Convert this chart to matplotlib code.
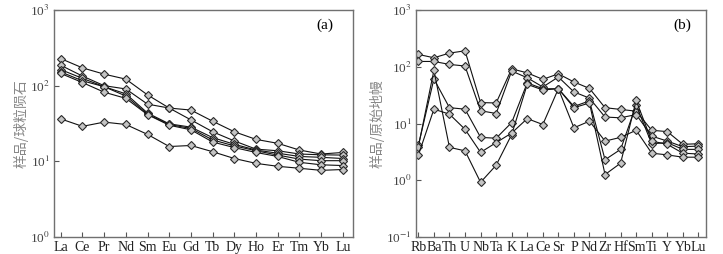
import matplotlib
matplotlib.use("Agg")
import matplotlib.pyplot as plt

plt.rcParams['font.family'] = ['Liberation Serif', 'Noto Sans CJK SC']
plt.rcParams['mathtext.fontset'] = 'stix'

# (a) 稀土元素球粒陨石标准化
ree = ['La', 'Ce', 'Pr', 'Nd', 'Sm', 'Eu', 'Gd', 'Tb', 'Dy', 'Ho', 'Er', 'Tm', 'Yb', 'Lu']
ree_1 = [228, 172, 142, 122, 75.5, 50.6, 47.6, 33.9, 24.6, 19.5, 17.3, 14.1, 12.5, 13.1]
ree_2 = [186, 134, 100, 90.5, 57, 50.6, 35.3, 24.6, 18.6, 14.5, 13.8, 12.5, 12.2, 12.1]
ree_3 = [163, 125, 97, 78, 43.5, 31.3, 28.3, 20.6, 16.8, 14.1, 12.8, 11.6, 11.3, 10.9]
ree_4 = [152, 116, 97, 73, 42, 30.7, 27.2, 19.2, 16.0, 13.8, 12.1, 10.7, 10.2, 10.2]
ree_5 = [145, 110, 82, 68, 41.4, 30.0, 26.1, 18.0, 15.2, 13.1, 11.6, 9.7, 9.0, 8.8]
ree_6 = [36.4, 29, 33, 30.7, 22.7, 15.7, 16.2, 13.4, 10.9, 9.4, 8.6, 8.1, 7.6, 7.8]

# (b) 微量元素原始地幔标准化
trace = ['Rb', 'Ba', 'Th', 'U', 'Nb', 'Ta', 'K', 'La', 'Ce', 'Sr', 'P', 'Nd',
         'Zr', 'Hf', 'Sm', 'Ti', 'Y', 'Yb', 'Lu']
tr_1 = [165, 144, 174, 191, 23.4, 23, 92, 78, 60, 75, 54, 41.5, 19, 17.7, 16.5, 7.6, 7.2, 4.3, 4.4]
tr_2 = [124, 124, 110, 103, 16.8, 15, 84, 64, 44, 66, 36, 28, 13, 12.6, 14.4, 6.0, 4.9, 3.9, 4.0]
tr_3 = [4.1, 61, 19, 17.9, 5.7, 5.5, 10.4, 52, 41, 41, 20, 25, 2.3, 3.5, 21, 4.4, 4.6, 3.5, 3.5]
tr_4 = [3.9, 86, 3.8, 3.3, 0.92, 1.84, 6.4, 49, 39, 41, 19, 23, 1.26, 2.0, 25.5, 4.9, 4.3, 3.0, 2.9]
tr_5 = [2.76, 17.9, 14.6, 7.9, 3.1, 4.6, 6.8, 12.2, 9.6, 41, 8.4, 11, 4.9, 5.7, 7.6, 3.0, 2.8, 2.55, 2.55]

fig = plt.figure(figsize=(7.23, 2.54), dpi=100)
ax1 = fig.add_axes([0.0747, 0.0669, 0.4136, 0.8937])
ax2 = fig.add_axes([0.5754, 0.0669, 0.4011, 0.8937])


def draw(ax, names, series, ylim, xlim, label, tag, tagx):
    for s in series:
        ax.plot(range(len(names)), s, color='#111111', lw=0.8,
                marker='D', ms=3.6, mfc='#c4c4c4', mec='#2a2a2a', mew=0.8)
    ax.set_yscale('log')
    ax.set_ylim(*ylim)
    ax.set_xlim(*xlim)
    ax.set_xticks(range(len(names)))
    ax.set_xticklabels(names, fontsize=10, color='#222222')
    ax.minorticks_off()
    ax.tick_params(direction='in', length=3.5, width=0.8, color='#555555', pad=3)
    ax.tick_params(axis='y', labelsize=9.5, labelcolor='#444444')
    for sp in ax.spines.values():
        sp.set_color('#707070')
        sp.set_linewidth(1.0)
    ax.set_ylabel(label, family=['Noto Sans CJK SC', 'DejaVu Sans'], fontsize=10,
                  color='#888888', labelpad=1)
    ax.text(tagx, 0.935, tag, transform=ax.transAxes, fontsize=11, ha='center', va='center')


draw(ax1, ree, [ree_1, ree_2, ree_3, ree_4, ree_5, ree_6], (1, 1000),
     (-0.31, 13.47), '样品/球粒陨石', '(a)', 0.905)
ax1.set_yticks([1, 10, 100, 1000])
ax1.set_yticklabels(['10$^{0}$', '10$^{1}$', '10$^{2}$', '10$^{3}$'])

draw(ax2, trace, [tr_1, tr_2, tr_3, tr_4, tr_5], (0.1, 1000),
     (-0.15, 18.49), '样品/原始地幔', '(b)', 0.92)
ax2.set_yticks([0.1, 1, 10, 100, 1000])
ax2.set_yticklabels(['10$^{-1}$', '10$^{0}$', '10$^{1}$', '10$^{2}$', '10$^{3}$'])

fig.savefig('out.png', dpi=100)
